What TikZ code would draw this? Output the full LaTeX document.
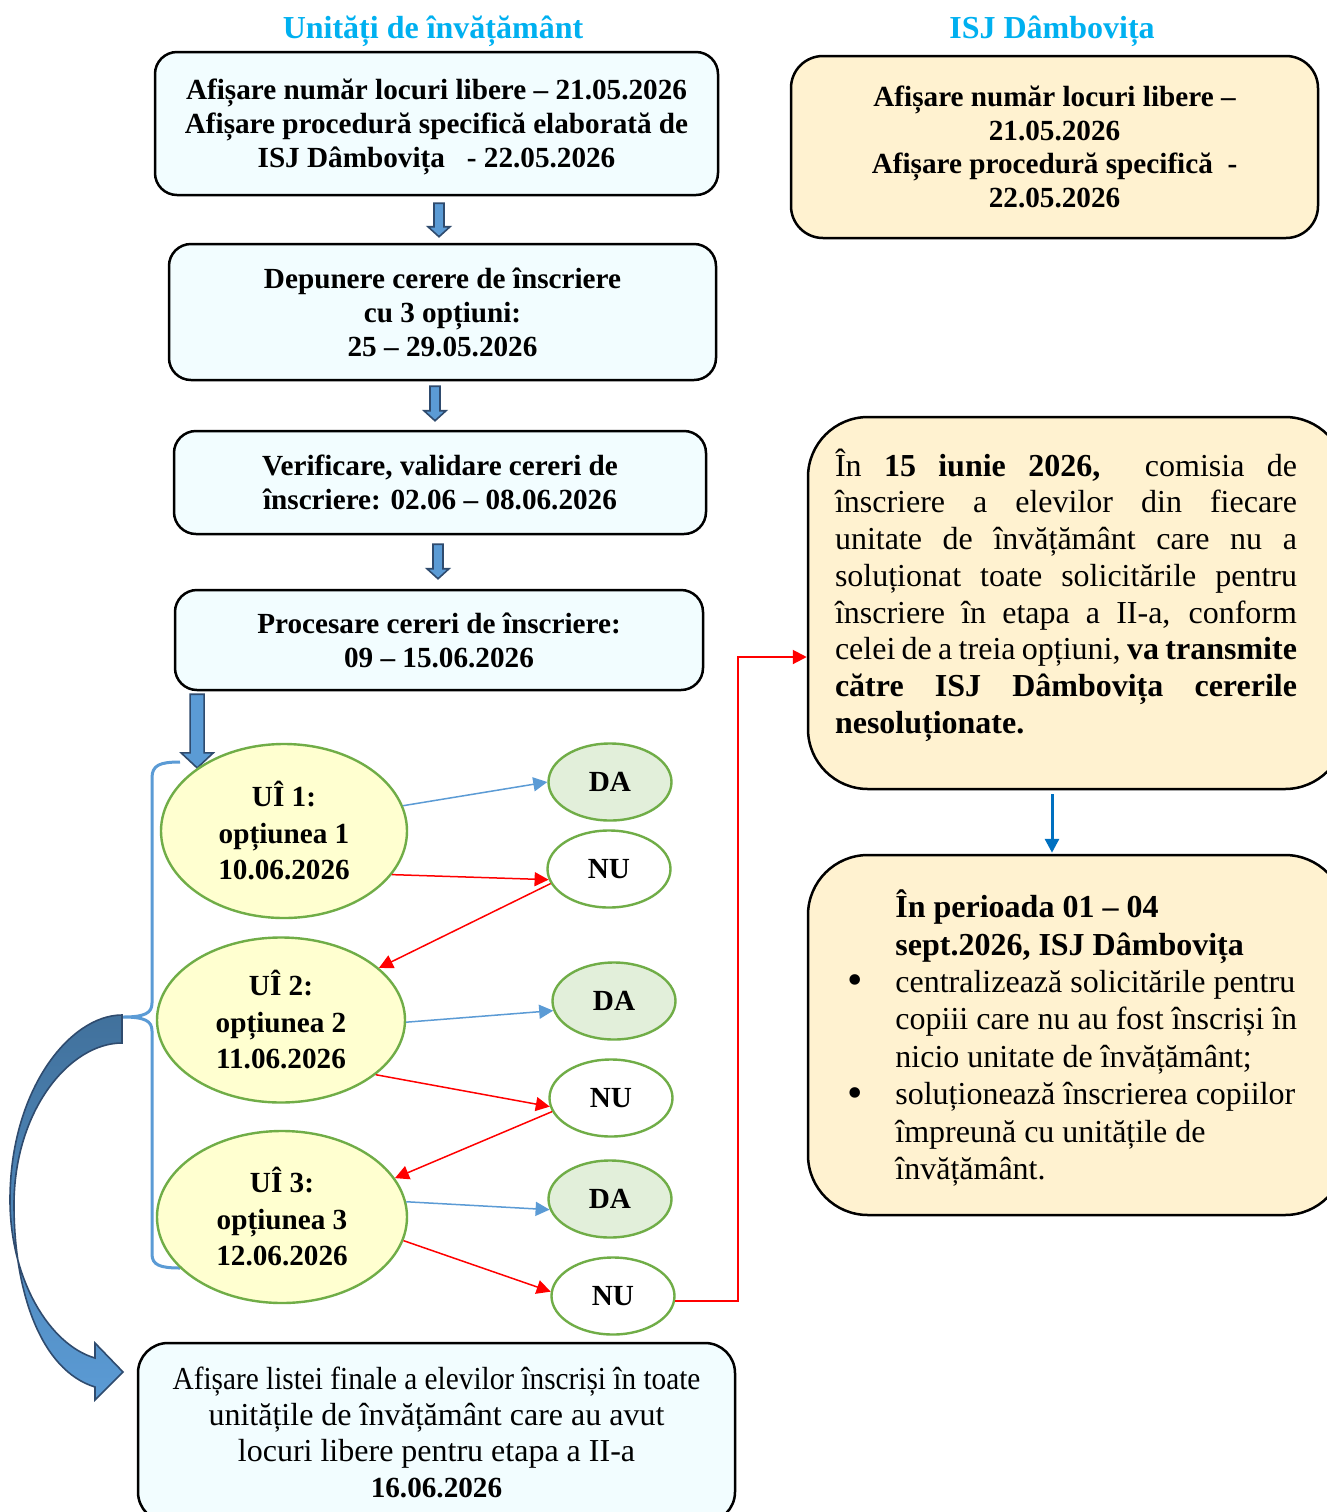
\documentclass[tikz,border=0pt]{standalone}
\usepackage{fontspec}
\setmainfont{Liberation Serif}
\usetikzlibrary{arrows.meta,shapes.geometric,calc,backgrounds}
\definecolor{ttlcyan}{HTML}{00B0F0}
\definecolor{boxcyan}{HTML}{F2FDFF}
\definecolor{boxcream}{HTML}{FFF2D0}
\definecolor{ellyellow}{HTML}{FFFFD0}
\definecolor{dagreen}{HTML}{E2EFDA}
\definecolor{edgegreen}{HTML}{70AD47}
\definecolor{lblue}{HTML}{5B9BD5}
\definecolor{dblue}{HTML}{2F4B6E}
\definecolor{mblue}{HTML}{41719C}
\definecolor{arrblue}{HTML}{0070C0}
\definecolor{rred}{HTML}{FF0000}
\newcommand\blkarrow[5]{\draw[blockarr] let \p1=(#1), \p2=(#2) in
  (\x2-#3,\y1) -- (\x2+#3,\y1) -- (\x2+#3,\y2+#5) -- (\x2+#4,\y2+#5) -- (\x2,\y2)
  -- (\x2-#4,\y2+#5) -- (\x2-#3,\y2+#5) -- cycle;}
\newcommand\bigbul{\makebox[24pt][l]{\raisebox{-1.2pt}{\fontsize{22}{22}\selectfont\textbullet}}}
\tikzset{
  lbox/.style={draw=black, line width=1.25pt, rounded corners=11pt, fill=boxcyan,
    align=center, inner sep=0pt, font=\bfseries\fontsize{14.6}{17}\selectfont},
  rbox/.style={draw=black, line width=1.25pt, fill=boxcream, inner sep=0pt},
  uell/.style={ellipse, draw=edgegreen, line width=1.2pt, fill=ellyellow, inner sep=0pt,
    align=center, font=\bfseries\fontsize{14.6}{18.25}\selectfont},
  dnell/.style={ellipse, draw=edgegreen, line width=1.2pt, inner sep=0pt,
    minimum width=61.5pt, minimum height=38.5pt, font=\bfseries\fontsize{14.6}{17}\selectfont},
  ttl/.style={text=ttlcyan, font=\bfseries\fontsize{16}{19}\selectfont},
  bluarr/.style={draw=lblue, line width=0.75pt, -{Triangle[length=7pt,width=7pt]}},
  redarr/.style={draw=rred, line width=0.75pt, -{Triangle[length=7pt,width=7pt]}},
  blockarr/.style={fill=lblue, draw=dblue, line width=0.8pt},
}
\begin{document}
\begin{tikzpicture}[x=0.5pt,y=-0.5pt]
\useasboundingbox (0,0) rectangle (1327,1512);
% titles
\node[ttl] (t1) at (433,31) {Unități de învățământ};
\node[ttl] (t2) at (1052,31) {ISJ Dâmbovița};
% left boxes
\node[lbox, minimum width=281.5pt, minimum height=71.5pt] (a1) at (436.5,123.5)
  {\rule{0pt}{14pt}Afișare număr locuri libere – 21.05.2026\\ Afișare procedură specifică elaborată de\\ ISJ Dâmbovița \ \ - 22.05.2026};
\node[lbox, minimum width=273.5pt, minimum height=68pt] (a2) at (442.5,312)
  {Depunere cerere de înscriere\\ cu 3 opțiuni:\\ 25 – 29.05.2026};
\node[lbox, minimum width=266pt, minimum height=51.5pt] (a3) at (440,482.5)
  {Verificare, validare cereri de\\ înscriere: 02.06 – 08.06.2026};
\node[lbox, minimum width=264pt, minimum height=50pt] (a4) at (439,640)
  {Procesare cereri de înscriere:\\ 09 – 15.06.2026};
\node[lbox, font=\fontsize{16}{18}\selectfont, rounded corners=15pt, minimum width=298.5pt, minimum height=89.5pt] (b) at (436.5,1432.5)
  {\scalebox{0.915}[1]{Afișare listei finale a elevilor înscriși în toate}\\ unitățile de învățământ care au avut\\ locuri libere pentru etapa a II-a\\ {\bfseries\fontsize{14.6}{18}\selectfont 16.06.2026}};
% ellipses
\node[uell, minimum width=123pt, minimum height=87pt] (u1) at (284,831) {UÎ 1:\\ opțiunea 1\\ 10.06.2026};
\node[uell, minimum width=124pt, minimum height=82.5pt] (u2) at (281,1020) {UÎ 2:\\ opțiunea 2\\ 11.06.2026};
\node[uell, minimum width=125pt, minimum height=86pt] (u3) at (282,1217) {UÎ 3:\\ opțiunea 3\\ 12.06.2026};
\node[dnell, fill=dagreen] (da1) at (610,782) {DA};
\node[dnell, fill=white] (nu1) at (609,869) {NU};
\node[dnell, fill=dagreen] (da2) at (614,1001) {DA};
\node[dnell, fill=white] (nu2) at (611,1098) {NU};
\node[dnell, fill=dagreen] (da3) at (610,1199) {DA};
\node[dnell, fill=white] (nu3) at (613,1296) {NU};
% right boxes
\node[rbox, rounded corners=16pt, minimum width=263.5pt, minimum height=91pt, align=center,
  font=\bfseries\fontsize{14.6}{16.85}\selectfont] (r1) at (1054.5,147)
  {Afișare număr locuri libere –\\ 21.05.2026\\ Afișare procedură specifică \ -\\ 22.05.2026};
\node[rbox, rounded corners=30pt, minimum width=268.5pt, minimum height=186pt] (r2) at (1076.5,603) {};
\node[font=\fontsize{16}{18.35}\selectfont, text width=231pt, align=justify, inner sep=0pt] (r2t) at (1066,595)
  {În \textbf{15 iunie 2026,}\ \ comisia de\linebreak
   înscriere a elevilor din fiecare\linebreak
   unitate de învățământ care nu a\linebreak
   soluționat toate solicitările pentru\linebreak
   înscriere în etapa a II-a, conform\linebreak
   celei de a treia opțiuni, \textbf{va transmite\linebreak
   către ISJ Dâmbovița cererile\linebreak
   nesoluționate.}};
\node[rbox, rounded corners=30pt, minimum width=268.5pt, minimum height=180pt] (r3) at (1076.5,1035) {};
\node[font=\fontsize{16}{18.7}\selectfont, align=left, inner sep=0pt, anchor=west] (r3t) at (847,1038)
  {\hspace*{24pt}\textbf{În perioada 01 – 04}\\
   \hspace*{24pt}\textbf{sept.2026, ISJ Dâmbovița}\\
   \bigbul centralizează solicitările pentru\\
   \hspace*{24pt}copiii care nu au fost înscriși în\\
   \hspace*{24pt}nicio unitate de învățământ;\\
   \bigbul soluționează înscrierea copiilor\\
   \hspace*{24pt}împreună cu unitățile de\\
   \hspace*{24pt}învățământ.};
% background layer: brace, block arrows, curved arrow
\begin{pgfonlayer}{background}
  \fill[white] (0,0) rectangle (1327,1512);
  \coordinate (bt) at (123,1017);
  \draw[lblue, line width=1.5pt] (180,762) .. controls (160,762) and (152,765) .. (152,778)
    -- (152,1003) .. controls (152,1013) and (145,1017) .. (bt)
    .. controls (145,1017) and (152,1021) .. (152,1031)
    -- (152,1254) .. controls (152,1265) and (160,1268) .. (180,1268);
  \blkarrow{$(a4.south west)+(22,3)$}{u1.144}{3.5pt}{8pt}{7.5pt}
  \draw[draw=dblue, line width=0.8pt, top color=mblue, bottom color=lblue]
    (bt) ++(-1,-2) .. controls (70,1015) and (10,1090) .. (10,1200)
    .. controls (10,1280) and (50,1345) .. (95,1358)
    -- (95,1343) -- (123,1372) -- (95,1400) -- (95,1387)
    .. controls (40,1370) and (14,1290) .. (14,1205)
    .. controls (14,1110) and (70,1043) .. (122,1043) -- cycle;
\end{pgfonlayer}
% small block arrows
\blkarrow{$(a1.south)+(3,7)$}{$(a2.north)+(-3.5,-6)$}{2.5pt}{5.5pt}{5pt}
\blkarrow{$(a2.south)+(0,5)$}{$(a3.north)+(-5,-9)$}{2.5pt}{5.5pt}{5pt}
\blkarrow{$(a3.south)+(0,9)$}{$(a4.north)+(-1,-10)$}{2.5pt}{5.5pt}{5pt}
% connectors
\draw[bluarr] (u1.12) -- (da1.west);
\draw[redarr] (u1.-22) -- (nu1.190);
\draw[redarr] (nu1.194) -- (u2.28);
\draw[bluarr] (u2.-1) -- (da2.189);
\draw[redarr] (u2.-30) -- (nu2.188);
\draw[redarr] (nu2.193) -- (u3.19);
\draw[bluarr] (u3.7) -- (da3.190);
\draw[redarr] (u3.-11) -- (nu3.176);
\coordinate (e1) at (738,657);
\draw[draw=rred, line width=1pt, -{Triangle[length=7pt,width=7pt]}] (nu3.-5) -| (e1) -- (e1 -| r2.west);
\draw[draw=arrblue, line width=1.5pt, -{Triangle[length=7pt,width=7pt]}] ($(r2.south)+(-24.5,4)$) -- ($(r3.north)+(-24.5,-1)$);
\end{tikzpicture}
\end{document}
